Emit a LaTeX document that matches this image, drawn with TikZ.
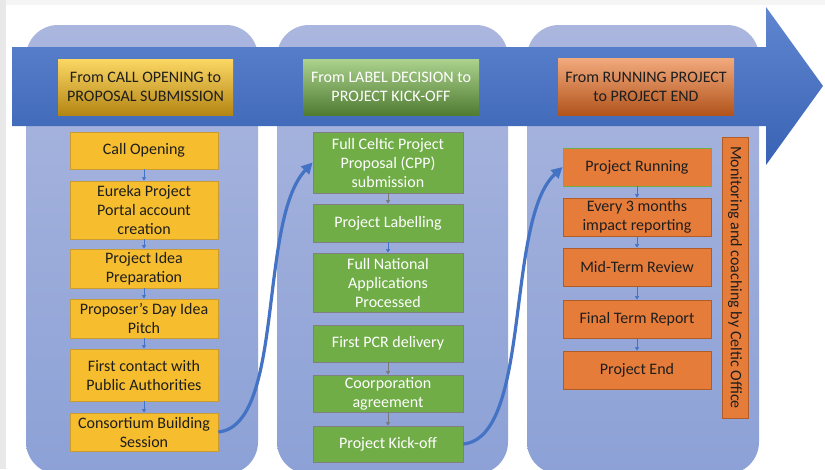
\documentclass[tikz,border=0pt]{standalone}
\usepackage{fontspec}
\setmainfont{Carlito}
\usetikzlibrary{arrows.meta}
\definecolor{colTop}{RGB}{170,182,222}
\definecolor{colBot}{RGB}{140,161,214}
\definecolor{arrTop}{RGB}{96,134,208}
\definecolor{arrBot}{RGB}{56,98,180}
\definecolor{flowBlue}{RGB}{68,114,196}
\definecolor{goldFill}{RGB}{246,190,46}
\definecolor{goldLine}{RGB}{200,156,50}
\definecolor{greenFill}{RGB}{112,173,71}
\definecolor{greenLine}{RGB}{128,128,128}
\definecolor{orangeFill}{RGB}{230,124,58}
\definecolor{orangeLine}{RGB}{176,92,40}
\definecolor{darkText}{RGB}{30,30,30}
\definecolor{connGray}{RGB}{120,120,120}
\begin{document}
\begin{tikzpicture}[x=1pt,y=-1pt,
  txt/.style={font=\fontsize{16}{19}\selectfont, align=center, inner sep=0pt},
  column/.style={rounded corners=32pt, top color=colTop, bottom color=colBot, draw=none},
  bigarrow/.style={top color=arrTop, bottom color=arrBot, draw=none},
  goldbox/.style={txt, fill=goldFill, draw=goldLine, line width=0.8pt, text=darkText, minimum width=148pt},
  greenbox/.style={txt, fill=greenFill, draw=greenLine, line width=0.8pt, text=white, minimum width=150pt},
  orangebox/.style={txt, fill=orangeFill, draw=orangeLine, line width=0.8pt, text=darkText, minimum width=148pt},
  headgold/.style={txt, top color={rgb,255:red,252;green,215;blue,100}, bottom color={rgb,255:red,180;green,134;blue,20}, text=darkText, minimum width=175pt, minimum height=56pt},
  headgreen/.style={txt, top color={rgb,255:red,172;green,210;blue,142}, bottom color={rgb,255:red,80;green,124;blue,50}, text=white, minimum width=176pt, minimum height=56pt},
  headorange/.style={txt, top color={rgb,255:red,242;green,170;blue,125}, bottom color={rgb,255:red,178;green,84;blue,28}, text=darkText, minimum width=176pt, minimum height=57pt},
  smallarrow/.style={draw=flowBlue, line width=0.6pt, -{Triangle[length=3.5pt,width=4pt]}},
  smallgray/.style={draw=connGray, line width=0.6pt, -{Triangle[length=3.5pt,width=4pt]}},
  curvearrow/.style={draw=flowBlue, line width=3.2pt, -{Triangle[length=11pt,width=11pt]}}
]
\useasboundingbox (0,0) rectangle (825,469);
\fill[white] (0,0) rectangle (825,469);
\fill[black!4] (0,0) rectangle (825,5);
\fill[black!9] (0,0) rectangle (6,469);

% columns
\path[column] (26,25) rectangle (258,474);
\path[column] (277,25) rectangle (508,474);
\path[column] (527,25) rectangle (759,474);

% big arrow
\path[bigarrow] (12,47) -- (766,47) -- (766,7) -- (823,86) -- (766,165) -- (766,126) -- (12,126) -- cycle;

% headers
\node[headgold] (h1) at (145.5,87) {From CALL OPENING to\\PROPOSAL SUBMISSION};
\node[headgreen] (h2) at (391,87) {From LABEL DECISION to\\PROJECT KICK-OFF};
\node[headorange] (h3) at (646,86.5) {From RUNNING PROJECT\\to PROJECT END};

% column 1
\node[goldbox, minimum height=37pt] (c1) at (144,150.5) {Call Opening};
\node[goldbox, minimum height=58pt] (c2) at (144,210) {Eureka Project\\Portal account\\creation};
\node[goldbox, minimum height=39pt] (c3) at (144,268.5) {Project Idea\\Preparation};
\node[goldbox, minimum height=39pt] (c4) at (144,318.5) {Proposer’s Day Idea\\Pitch};
\node[goldbox, minimum height=52pt] (c5) at (144,375) {First contact with\\Public Authorities};
\node[goldbox, minimum height=38pt] (c6) at (144,432) {Consortium Building\\Session};
\draw[smallarrow] (c1) -- (c2);
\draw[smallarrow] (c2) -- (c3);
\draw[smallarrow] (c3) -- (c4);
\draw[smallarrow] (c4) -- (c5);
\draw[smallarrow] (c5) -- (c6);

% column 2
\node[greenbox, minimum height=61pt] (g1) at (388,162.5) {Full Celtic Project\\Proposal (CPP)\\submission};
\node[greenbox, minimum height=38pt] (g2) at (388,223) {Project Labelling};
\node[greenbox, minimum height=59pt] (g3) at (388,282.5) {Full National\\Applications\\Processed};
\node[greenbox, minimum height=37pt] (g4) at (388,343.5) {First PCR delivery};
\node[greenbox, minimum height=37pt] (g5) at (388,393.5) {Coorporation\\agreement};
\node[greenbox, minimum height=36pt] (g6) at (388,444) {Project Kick-off};
\draw[smallgray] (g1) -- (g2);
\draw[smallarrow] (g2) -- (g3);
\draw[smallgray] (g4) -- (g5);
\draw[smallgray] (g5) -- (g6);

% column 3
\node[orangebox, minimum height=38pt, draw=greenFill] (o1) at (637,167) {Project Running};
\node[orangebox, minimum height=38pt] (o2) at (637,217) {Every 3 months\\impact reporting};
\node[orangebox, minimum height=38pt] (o3) at (637,267) {Mid-Term Review};
\node[orangebox, minimum height=38pt] (o4) at (637,319) {Final Term Report};
\node[orangebox, minimum height=38pt] (o5) at (637,370) {Project End};
\draw[smallarrow] (o1) -- (o2);
\draw[smallarrow] (o2) -- (o3);
\draw[smallarrow] (o3) -- (o4);
\draw[smallarrow] (o4) -- (o5);

\node[txt, fill=orangeFill, draw=orangeLine, line width=0.8pt, text=darkText, minimum width=281pt, minimum height=26pt, rotate=-90] (mon) at (735,277.5) {Monitoring and coaching by Celtic Office};

% curved connectors
\draw[curvearrow] (c6.east) .. controls (285,425) and (258,220) .. (g1.west);
\draw[curvearrow] (g6.east) .. controls (532,437) and (505,220) .. (o1.west);
\end{tikzpicture}
\end{document}
